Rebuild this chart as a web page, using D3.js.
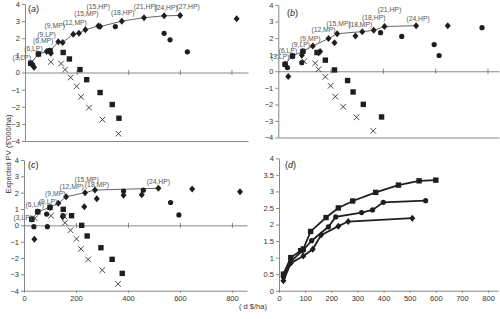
<!DOCTYPE html>
<meta charset="utf-8">
<head>
<script src="https://d3js.org/d3.v7.min.js"></script>
<style>
  body { margin: 0; background: #fff; }
  text { font-family: "Liberation Sans", Arial, sans-serif; }
</style>
</head>
<body>
<div id="chart"></div>
<script>
// ---- panel (a) ----
var frontA    = [[22,0.54],[52,1.08],[84,1.23],[97,1.27],[129,1.79],[146,1.75],[187,2.24],[209,2.29],[234,2.5],[284,2.72],[291,2.68],[375,3.0],[461,3.2],[539,3.31],[601,3.33]];
var labelsA   = ["(3,LP)","(6,LP)","(6,MP)","(9,LP)","(9,MP)","","(12,MP)","","(15,MP)","(15,HP)","","(18,HP)","(21,HP)","(24,HP)","(27,HP)"];
var squaresA  = [[22,0.54],[52,1.08],[97,1.27],[148,1.17],[172,0.79],[213,0.17],[239,-0.42],[291,-1.17],[338,-1.87],[364,-2.67]];
var crossesA  = [[100,0.62],[140,0.52],[155,0.17],[177,-0.29],[200,-0.81],[217,-1.42],[248,-2.05],[300,-2.75],[362,-3.57]];
var dotsA     = [[30,0.45],[350,2.68],[539,2.29],[562,1.91],[629,1.21]];
var diamondsA = [[35,0.3],[100,1.12],[820,3.14]];

// ---- panel (b) ----
var frontB    = [[26,0.42],[54,0.92],[94,1.2],[132,1.53],[192,1.97],[225,2.27],[321,2.39],[365,2.47],[406,2.7],[527,2.75]];
var labelsB   = ["(3,LP)","(6,LP)","(9,LP)","(9,MP)","(12,MP)","(15,MP)","(18,MP)","(18,HP)","(21,HP)","(24,HP)"];
var squaresB  = [[26,0.42],[54,0.92],[94,1.2],[148,1.13],[180,0.67],[215,0.08],[265,-0.56],[286,-1.25],[325,-2.0],[395,-2.76]];
var crossesB  = [[99,0.6],[141,0.48],[154,0.12],[180,-0.34],[200,-0.88],[218,-1.53],[248,-2.14],[299,-2.78],[363,-3.6]];
var dotsB     = [[35,0.22],[90,0.52],[391,2.33],[472,2.1],[596,1.61],[615,0.95],[779,2.63]];
var diamondsB = [[38,-0.32],[90,0.97],[154,1.12],[160,1.2],[215,1.72],[295,2.13],[648,2.75]];

// ---- panel (c) ----
var frontC    = [[30,0.37],[53,0.83],[100,1.1],[132,1.35],[162,1.75],[235,2.0],[273,2.16],[517,2.27]];
var labelsC   = ["(3,LP)","(6,LP)","(9,LP)","(9,MP)","(12,MP)","(15,MP)","(18,MP)","(24,HP)"];
var squaresC  = [[30,0.37],[53,0.83],[100,1.1],[151,0.98],[183,0.59],[222,0.0],[243,-0.65],[296,-1.37],[339,-2.08],[378,-2.94]];
var crossesC  = [[42,0.43],[104,0.59],[155,0.55],[158,0.16],[179,-0.3],[202,-0.83],[219,-1.44],[247,-2.09],[301,-2.74],[362,-3.58]];
var dotsC     = [[38,-0.08],[90,-0.08],[87,0.69],[150,0.6],[383,2.1],[459,2.15],[564,1.4],[596,0.64]];
var diamondsC = [[40,-0.85],[149,0.53],[232,1.14],[280,1.63],[383,1.85],[453,1.87],[647,2.22],[831,2.06]];

// ---- panel (d) ----
var dSquareX  = [17,45,83,93,121,180,227,282,370,457,536,600];
var dSquareY  = [0.5,1.0,1.21,1.26,1.79,2.21,2.5,2.71,2.97,3.19,3.32,3.34];
var dCircleX  = [17,45,93,125,189,217,316,358,399,561];
var dCircleY  = [0.42,0.88,1.23,1.51,1.93,2.23,2.36,2.44,2.67,2.72];
var dDiamondX = [17,45,93,129,161,227,265,510];
var dDiamondY = [0.3,0.83,1.05,1.25,1.68,1.95,2.09,2.19];

var yTicksTop = [-4,-3,-2,-1,0,1,2,3,4];
var xTicks    = [0,200,400,600,800];
var dXTicks   = [0,100,200,300,400,500,600,700,800];
var dYTicks   = [0,0.5,1,1.5,2,2.5,3,3.5,4];

var svg = d3.select("#chart").append("svg").attr("width", 500).attr("height", 319);
var ink = "#1e1e1e", axisCol = "#6a6a6a";

function styleAxis(sel) {
  sel.selectAll("path,line").attr("stroke", axisCol).attr("stroke-width", 0.8);
  sel.selectAll("text").attr("fill", "#333").style("font-size", "7.5px")
     .style("font-family", '"Liberation Sans", Arial, sans-serif');
}

function drawMarks(g, data, type, x, y) {
  var tr = function(d) { return "translate(" + x(d[0]) + "," + y(d[1]) + ")"; };
  var shape = {
    cross: "M-2.8,-2.8L2.8,2.8M-2.8,2.8L2.8,-2.8",
    square: "M-2.7,-2.7H2.7V2.7H-2.7Z",
    diamond: "M0,-3.5L3,0L0,3.5L-3,0Z"
  };
  if (type == "dot") {
    g.append("g").selectAll("circle").data(data).join("circle")
      .attr("cx", function(d){ return x(d[0]); }).attr("cy", function(d){ return y(d[1]); })
      .attr("r", 2.6).attr("fill", ink);
  } else if (type == "cross") {
    g.append("g").selectAll("path").data(data).join("path")
      .attr("transform", tr).attr("d", shape.cross)
      .attr("stroke", "#333").attr("stroke-width", 0.9).attr("fill", "none");
  } else {
    g.append("g").selectAll("path").data(data).join("path")
      .attr("transform", tr).attr("d", shape[type]).attr("fill", ink);
  }
}

function scatterPanel(o) {
  var x = d3.scaleLinear().domain([0, o.xMax]).range([o.left, o.right]);
  var y = d3.scaleLinear().domain([-4, 4]).range([o.bottom, o.top]);
  var g = svg.append("g");

  g.append("g").attr("transform", "translate(" + o.left + ",0)")
    .call(d3.axisLeft(y).tickValues(yTicksTop).tickSize(3).tickSizeOuter(0).tickPadding(2))
    .call(styleAxis);

  // zero line with crossing ticks
  var z = g.append("g").attr("transform", "translate(0," + y(0) + ")")
    .call(d3.axisBottom(x).tickValues(xTicks.slice(1)).tickSizeOuter(0).tickFormat(""))
    .call(styleAxis);
  z.selectAll(".tick line").attr("y1", -2.5).attr("y2", 2.5);

  // bottom line
  g.append("g").attr("transform", "translate(0," + o.bottom + ")")
    .call(d3.axisBottom(x).tickValues(o.bottomLabels ? xTicks : []).tickSize(2).tickSizeOuter(0).tickPadding(3))
    .call(styleAxis);

  // efficient frontier
  g.append("path").datum(o.front)
    .attr("d", d3.line().x(function(d){ return x(d[0]); }).y(function(d){ return y(d[1]); }))
    .attr("fill", "none").attr("stroke", "#555").attr("stroke-width", 0.9);

  drawMarks(g, o.front, "diamond", x, y);
  drawMarks(g, o.diamonds, "diamond", x, y);
  drawMarks(g, o.dots, "dot", x, y);
  drawMarks(g, o.squares, "square", x, y);
  drawMarks(g, o.crosses, "cross", x, y);

  g.append("g").selectAll("text").data(o.front).join("text")
    .attr("x", function(d, i){ return x(d[0]) + o.offs[i][0]; })
    .attr("y", function(d, i){ return y(d[1]) + o.offs[i][1]; })
    .attr("text-anchor", "middle").attr("dominant-baseline", "middle")
    .attr("fill", "#555").style("font-size", "6.8px")
    .text(function(d, i){ return o.labels[i]; });

  var t = g.append("text").attr("x", o.tagX).attr("y", o.tagY).attr("fill", "#222").style("font-size", "9px");
  t.append("tspan").text("(");
  t.append("tspan").style("font-style", "italic").text(o.tag);
  t.append("tspan").text(")");
}

scatterPanel({front: frontA, labels: labelsA, squares: squaresA, crosses: crossesA, dots: dotsA, diamonds: diamondsA,
  xMax: 864, left: 25, right: 248, top: 4, bottom: 141, tag: "a", tagX: 28, tagY: 12,
  offs: [[-9,-5],[-5,-5],[-3.5,-10],[-3.5,-16],[-3.5,-16],[0,0],[1.5,-11],[0,0],[1,-15],[0,-18.5],[0,0],[1,-8],[1.5,-10],[2,-8],[8,-8]]});

scatterPanel({front: frontB, labels: labelsB, squares: squaresB, crosses: crossesB, dots: dotsB, diamonds: diamondsB,
  xMax: 844, left: 278.3, right: 499, top: 5, bottom: 137.5, tag: "b", tagX: 287, tagY: 16,
  offs: [[-5,-7],[-4.5,-5],[-2,-6],[-2.5,-7],[-5,-8.5],[1.5,-9.5],[-2,-6.5],[0,-12],[5,-16],[2,-7]]});

scatterPanel({front: frontC, labels: labelsC, squares: squaresC, crosses: crossesC, dots: dotsC, diamonds: diamondsC,
  xMax: 858, left: 24, right: 247, top: 160, bottom: 290.7, tag: "c", tagX: 28, tagY: 168, bottomLabels: true,
  offs: [[-9,-1],[-3,-7],[-2,-5],[-3,-9],[5.5,-9.5],[1.5,-12],[2,-5],[0,-6.5]]});

// ---- panel (d) ----
(function() {
  var x = d3.scaleLinear().domain([0, 838]).range([279, 498]);
  var y = d3.scaleLinear().domain([0, 4]).range([290.7, 158.3]);
  var g = svg.append("g");
  g.append("g").attr("transform", "translate(279,0)")
    .call(d3.axisLeft(y).tickValues(dYTicks).tickSize(3).tickSizeOuter(0).tickPadding(2).tickFormat(function(d){ return String(d); }))
    .call(styleAxis);
  g.append("g").attr("transform", "translate(0,290.7)")
    .call(d3.axisBottom(x).tickValues(dXTicks).tickSize(2).tickSizeOuter(0).tickPadding(3))
    .call(styleAxis);

  var series = [
    {xs: dSquareX, ys: dSquareY, type: "square"},
    {xs: dCircleX, ys: dCircleY, type: "dot"},
    {xs: dDiamondX, ys: dDiamondY, type: "diamond"}
  ];
  series.forEach(function(s) {
    var pts = s.xs.map(function(v, i){ return [v, s.ys[i]]; });
    g.append("path").datum(pts)
      .attr("d", d3.line().x(function(d){ return x(d[0]); }).y(function(d){ return y(d[1]); }))
      .attr("fill", "none").attr("stroke", ink).attr("stroke-width", 1.8);
    drawMarks(g, pts, s.type, x, y);
  });

  var t = g.append("text").attr("x", 285).attr("y", 168).attr("fill", "#222").style("font-size", "9px");
  t.append("tspan").text("(");
  t.append("tspan").style("font-style", "italic").text("d");
  t.append("tspan").text(")");
})();

// axis titles
svg.append("text").attr("transform", "translate(10.5,154) rotate(-90)")
  .attr("text-anchor", "middle").attr("fill", "#333").style("font-size", "7.5px")
  .text("Expected PV ($'000/ha)");
svg.append("text").attr("x", 253).attr("y", 309)
  .attr("text-anchor", "middle").attr("fill", "#333").style("font-size", "7.5px")
  .text("( d $/ha)");
</script>
</body>
